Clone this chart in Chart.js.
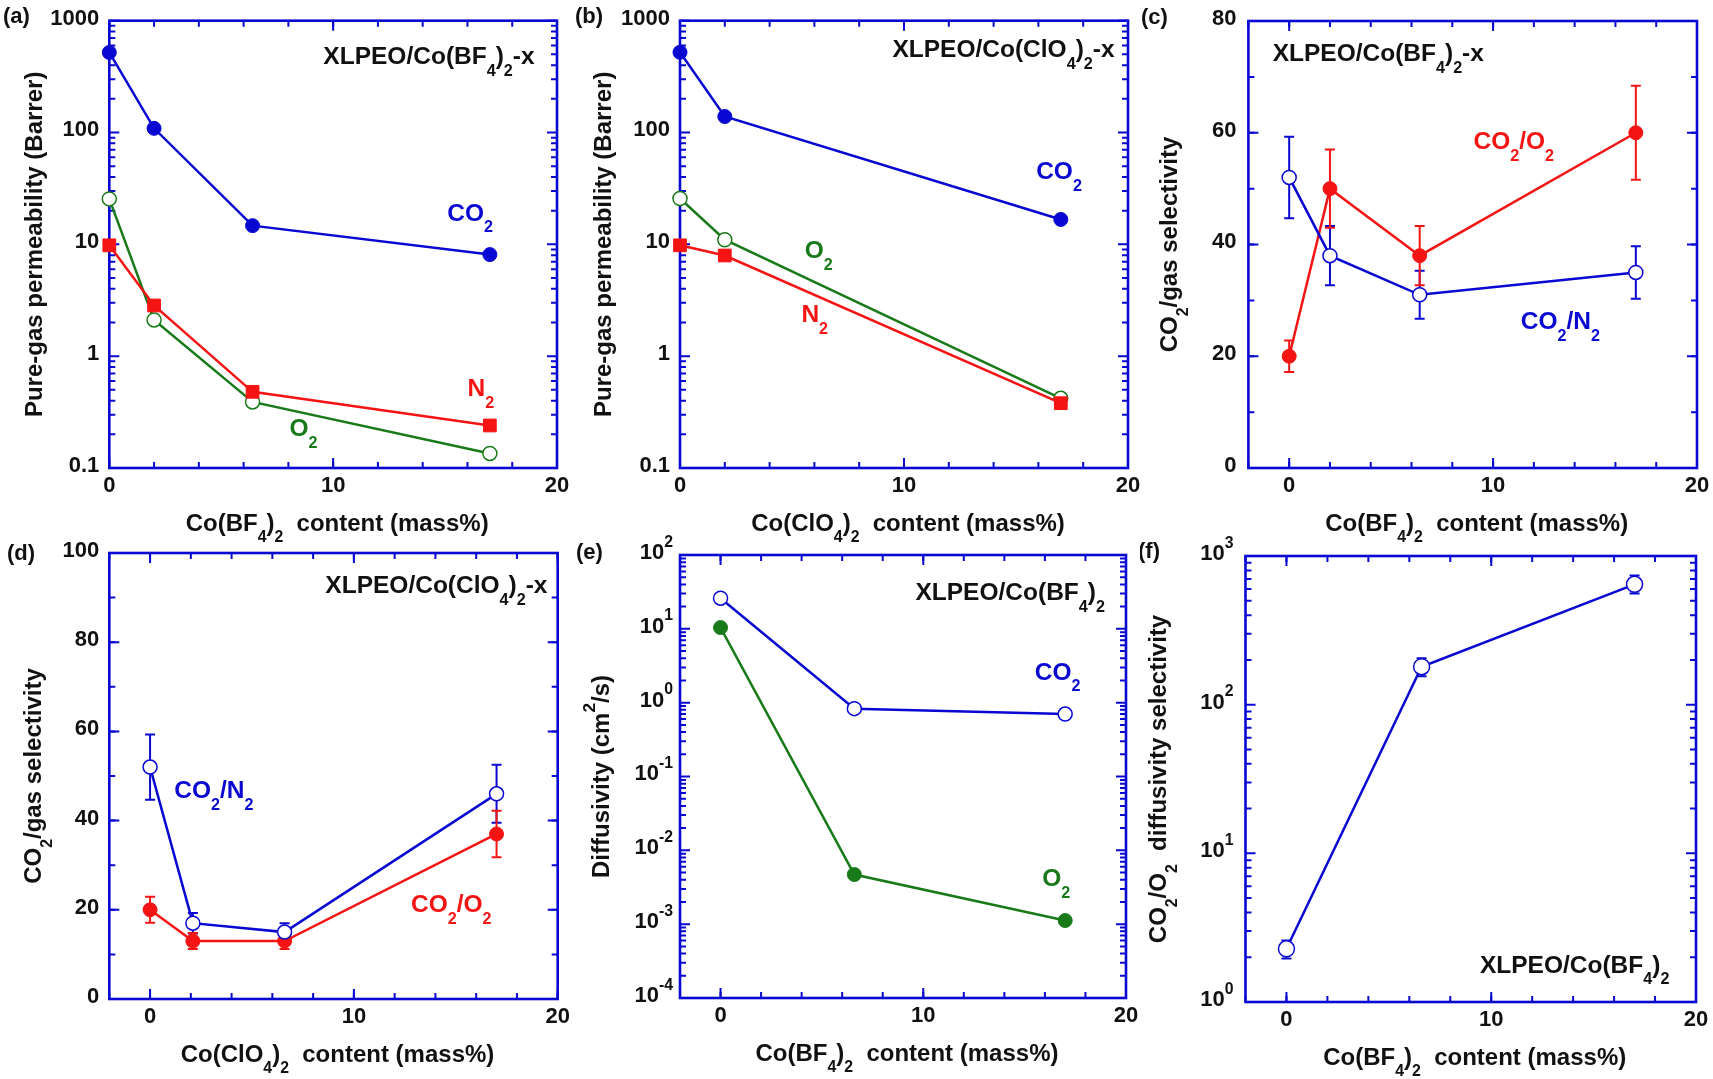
<!DOCTYPE html>
<html>
<head>
<meta charset="utf-8">
<script src="https://cdn.jsdelivr.net/npm/chart.js@4.4.0/dist/chart.umd.min.js"></script>
<style>
  body { margin: 0; background: #fff; width: 1713px; height: 1079px; position: relative; overflow: hidden; }
  canvas { position: absolute; }
</style>
</head>
<body>
<script>
// ---- data ----
// (a) XLPEO/Co(BF4)2-x pure-gas permeability (Barrer)
const bfContent = [0, 2, 6.4, 17];
const bfPermCO2 = [520, 109, 14.7, 8.1];
const bfPermN2 = [9.8, 2.84, 0.48, 0.24];
const bfPermO2 = [25.5, 2.11, 0.39, 0.135];

// (b) XLPEO/Co(ClO4)2-x pure-gas permeability
const clContent = [0, 2, 17];
const clPermCO2 = [522, 139, 16.7];
const clPermN2 = [9.8, 7.95, 0.38];
const clPermO2 = [25.7, 11, 0.42];

// (c) XLPEO/Co(BF4)2-x selectivity, with +/- error
const bfSelContent = [0, 2, 6.4, 17];
const bfSelCO2N2 = [52, 38, 31, 35];
const bfSelCO2N2Err = [7.3, 5.3, 4.3, 4.7];
const bfSelCO2O2 = [20, 50, 38, 60];
const bfSelCO2O2Err = [2.8, 7, 5.3, 8.4];

// (d) XLPEO/Co(ClO4)2-x selectivity
const clSelContent = [0, 2.1, 6.6, 17];
const clSelCO2N2 = [52, 17, 15, 46];
const clSelCO2N2Err = [7.3, 2.3, 2, 6.5];
const clSelCO2O2 = [20, 13, 13, 37];
const clSelCO2O2Err = [2.9, 1.8, 1.8, 5.2];

// (e) diffusivity
const diffContent = [0, 6.6, 17];
const diffCO2 = [26, 0.83, 0.70];
const diffO2 = [10.4, 0.0047, 0.00112];

// (f) CO2/O2 diffusivity selectivity (value, upper, lower)
const dselContent = [0, 6.6, 17];
const dsel = [2.28, 180, 645];
const dselHi = [2.59, 205, 740];
const dselLo = [1.96, 155, 559];

// tick labels
const contentTicks = [0, 10, 20];
const permTicks = [0.1, 1, 10, 100, 1000];
const selTicksC = [0, 20, 40, 60, 80];
const selTicksD = [0, 20, 40, 60, 80, 100];
const diffTicks = [1e-4, 1e-3, 1e-2, 1e-1, 1, 10, 100];
const dselTicks = [1, 10, 100, 1000];

const BLUE = '#0808d2', RED = '#f41414', GREEN = '#197a19', INK = '#111';
const FONT = '"Liberation Sans", Arial, sans-serif';
const TICK_PX = 22, TITLE_PX = 24, NOTE_PX = 24.5, TAG_PX = 22;

function partSize(p, size) {
  if (p[1] === 'sup') return size * 0.72;
  if (p[1] === 'sub') return size * 0.66;
  return size;
}
function richWidth(ctx, parts, size) {
  let w = 0;
  parts.forEach(p => {
    ctx.font = 'bold ' + partSize(p, size) + 'px ' + FONT;
    w += ctx.measureText(p[0]).width;
  });
  return w;
}

// y = vertical centre of the normal sized text
function drawRich(ctx, parts, x, y, size, color, align) {
  const w = richWidth(ctx, parts, size);
  let cx = align === 'right' ? x - w : (align === 'center' ? x - w / 2 : x);
  const base = y + size * 0.36;
  ctx.fillStyle = color;
  ctx.textAlign = 'left';
  ctx.textBaseline = 'alphabetic';
  parts.forEach(p => {
    ctx.font = 'bold ' + partSize(p, size) + 'px ' + FONT;
    let by = base;
    if (p[1] === 'sub') by = base + size * 0.48;
    if (p[1] === 'sup') by = base - size * 0.56;
    ctx.fillText(p[0], cx, by);
    cx += ctx.measureText(p[0]).width;
  });
}

function linMinor(min, max, step) {
  const out = [];
  for (let v = min; v <= max + 1e-9; v += step) out.push(Math.round(v * 1000) / 1000);
  return out;
}
function logMinor(min, max) {
  const out = [];
  for (let d = Math.round(Math.log10(min)); d < Math.round(Math.log10(max)); d++)
    for (let k = 2; k <= 9; k++) out.push(k * Math.pow(10, d));
  return out;
}
const plainLabel = v => [[String(v)]];
const powLabel = v => [['10'], [String(Math.round(Math.log10(v))), 'sup']];

// frame, inward ticks, labels, titles and error bars for one panel
function makeDecor(c, ox, oy) {
  return {
    id: 'decor',
    beforeDatasetsDraw(chart) {
      const ctx = chart.ctx, a = chart.chartArea;
      const xs = chart.scales.x, ys = chart.scales.y;
      ctx.save();
      ctx.strokeStyle = BLUE;
      ctx.lineWidth = 2;
      const xt = (v, len) => {
        const px = xs.getPixelForValue(v);
        ctx.beginPath();
        ctx.moveTo(px, a.bottom); ctx.lineTo(px, a.bottom - len);
        ctx.moveTo(px, a.top); ctx.lineTo(px, a.top + len);
        ctx.stroke();
      };
      const yt = (v, len) => {
        const py = ys.getPixelForValue(v);
        ctx.beginPath();
        ctx.moveTo(a.left, py); ctx.lineTo(a.left + len, py);
        ctx.moveTo(a.right, py); ctx.lineTo(a.right - len, py);
        ctx.stroke();
      };
      c.xMinor.forEach(v => xt(v, 6));
      c.xTicks.forEach(v => xt(v, 10));
      c.yMinor.forEach(v => yt(v, 6));
      c.yTicks.forEach(v => yt(v, 10));
      ctx.lineWidth = 2.6;
      ctx.strokeRect(a.left, a.top, a.right - a.left, a.bottom - a.top);

      chart.data.datasets.forEach(ds => {
        if (!ds.errHi) return;
        ctx.strokeStyle = ds.borderColor;
        ctx.lineWidth = 2;
        ds.data.forEach((p, i) => {
          const px = xs.getPixelForValue(p.x);
          const y1 = ys.getPixelForValue(ds.errLo[i]), y2 = ys.getPixelForValue(ds.errHi[i]);
          ctx.beginPath();
          ctx.moveTo(px, y1); ctx.lineTo(px, y2);
          ctx.moveTo(px - 5, y1); ctx.lineTo(px + 5, y1);
          ctx.moveTo(px - 5, y2); ctx.lineTo(px + 5, y2);
          ctx.stroke();
        });
      });
      ctx.restore();
    },
    afterDraw(chart) {
      const ctx = chart.ctx, a = chart.chartArea;
      const xs = chart.scales.x, ys = chart.scales.y;
      ctx.save();
      c.xTicks.forEach(v => drawRich(ctx, [[String(v)]], xs.getPixelForValue(v), a.bottom + 16, TICK_PX, INK, 'center'));
      c.yTicks.forEach(v => drawRich(ctx, c.yFmt(v), a.left - c.yGap, ys.getPixelForValue(v) - 4, TICK_PX, INK, 'right'));
      drawRich(ctx, c.xTitle, (a.left + a.right) / 2 + 4, a.bottom + 54, TITLE_PX, INK, 'center');
      ctx.save();
      ctx.translate(c.yTitleX - ox, (a.top + a.bottom) / 2);
      ctx.rotate(-Math.PI / 2);
      drawRich(ctx, c.yTitle, 0, 0, TITLE_PX, INK, 'center');
      ctx.restore();
      drawRich(ctx, [[c.tag]], c.tagPos[0] - ox, c.tagPos[1] - oy, TAG_PX, INK, 'left');
      c.notes.forEach(n => drawRich(ctx, n.parts, xs.getPixelForValue(n.x), ys.getPixelForValue(n.y), NOTE_PX, n.color, n.align || 'left'));
      ctx.restore();
    }
  };
}

const pts = (xs, ys) => xs.map((x, i) => ({ x: x, y: ys[i] }));
function series(xs, ys, color, style, open, radius) {
  return {
    data: pts(xs, ys), showLine: true, clip: false,
    borderColor: color, borderWidth: 2.5,
    pointStyle: style, pointRadius: radius || 7,
    pointBackgroundColor: open ? '#fff' : color,
    pointBorderColor: color, pointBorderWidth: open ? 1.5 : 1
  };
}
function withErr(ds, lo, hi) { ds.errLo = lo; ds.errHi = hi; return ds; }

// canvas = [left, top, width, height], box = plot frame [l, t, r, b] in page pixels
function panel(canvas, box, xr, yAxis, datasets, cfg) {
  const [cl, ct, cw, chh] = canvas;
  const cv = document.createElement('canvas');
  cv.width = cw; cv.height = chh;
  cv.style.left = cl + 'px'; cv.style.top = ct + 'px';
  document.body.appendChild(cv);
  return new Chart(cv.getContext('2d'), {
    type: 'scatter',
    data: { datasets: datasets },
    options: {
      responsive: false, animation: false, events: [],
      layout: { padding: { left: box[0] - cl, top: box[1] - ct, right: cl + cw - box[2], bottom: ct + chh - box[3] } },
      scales: {
        x: { type: 'linear', min: xr[0], max: xr[1], display: false },
        y: Object.assign({ display: false }, yAxis)
      },
      plugins: { legend: { display: false }, tooltip: { enabled: false } }
    },
    plugins: [makeDecor(cfg, cl, ct)]
  });
}

const bfX = [['Co(BF'], ['4', 'sub'], [')'], ['2', 'sub'], ['  content (mass%)']];
const clX = [['Co(ClO'], ['4', 'sub'], [')'], ['2', 'sub'], ['  content (mass%)']];
const bfTitle = [['XLPEO/Co(BF'], ['4', 'sub'], [')'], ['2', 'sub'], ['-x']];
const clTitle = [['XLPEO/Co(ClO'], ['4', 'sub'], [')'], ['2', 'sub'], ['-x']];
const bfTitle2 = [['XLPEO/Co(BF'], ['4', 'sub'], [')'], ['2', 'sub']];
const gas = g => [[g.slice(0, -1)], ['2', 'sub']];
const ratio = g => [['CO'], ['2', 'sub'], ['/' + g], ['2', 'sub']];
const selY = [['CO'], ['2', 'sub'], ['/gas selectivity']];
const permY = [['Pure-gas permeability (Barrer)']];

// (a)
panel([0, 0, 570, 565], [109.3, 20.7, 557, 468], [0, 20],
  { type: 'logarithmic', min: 0.1, max: 1000 },
  [series(bfContent, bfPermCO2, BLUE, 'circle', false),
   series(bfContent, bfPermN2, RED, 'rect', false, 9),
   series(bfContent, bfPermO2, GREEN, 'circle', true)],
  { tag: '(a)', tagPos: [3, 15], xTicks: contentTicks, xMinor: linMinor(0, 20, 2),
    yTicks: permTicks, yMinor: logMinor(0.1, 1000), yFmt: plainLabel, yGap: 10,
    xTitle: bfX, yTitle: permY, yTitleX: 33,
    notes: [{ x: 19, y: 493, parts: bfTitle, color: INK, align: 'right' },
            { x: 15.1, y: 19.5, parts: gas('CO2'), color: BLUE },
            { x: 16.0, y: 0.53, parts: gas('N2'), color: RED },
            { x: 8.05, y: 0.232, parts: gas('O2'), color: GREEN }] });

// (b)
panel([570, 0, 570, 565], [680, 20.7, 1128, 468], [0, 20],
  { type: 'logarithmic', min: 0.1, max: 1000 },
  [series(clContent, clPermCO2, BLUE, 'circle', false),
   series(clContent, clPermN2, RED, 'rect', false, 9),
   series(clContent, clPermO2, GREEN, 'circle', true)],
  { tag: '(b)', tagPos: [575, 15], xTicks: contentTicks, xMinor: linMinor(0, 20, 2),
    yTicks: permTicks, yMinor: logMinor(0.1, 1000), yFmt: plainLabel, yGap: 10,
    xTitle: clX, yTitle: permY, yTitleX: 602,
    notes: [{ x: 19.4, y: 565, parts: clTitle, color: INK, align: 'right' },
            { x: 15.9, y: 46, parts: gas('CO2'), color: BLUE },
            { x: 5.57, y: 9.1, parts: gas('O2'), color: GREEN },
            { x: 5.42, y: 2.4, parts: gas('N2'), color: RED }] });

// (c)
panel([1140, 0, 573, 565], [1248.4, 21, 1697, 468], [-2, 20],
  { type: 'linear', min: 0, max: 80 },
  [withErr(series(bfSelContent, bfSelCO2N2, BLUE, 'circle', true),
     bfSelCO2N2.map((v, i) => v - bfSelCO2N2Err[i]), bfSelCO2N2.map((v, i) => v + bfSelCO2N2Err[i])),
   withErr(series(bfSelContent, bfSelCO2O2, RED, 'circle', false),
     bfSelCO2O2.map((v, i) => v - bfSelCO2O2Err[i]), bfSelCO2O2.map((v, i) => v + bfSelCO2O2Err[i]))],
  { tag: '(c)', tagPos: [1141, 16], xTicks: contentTicks, xMinor: linMinor(-2, 20, 2),
    yTicks: selTicksC, yMinor: linMinor(0, 80, 10), yFmt: plainLabel, yGap: 12,
    xTitle: bfX, yTitle: selY, yTitleX: 1168,
    notes: [{ x: -0.81, y: 74.4, parts: bfTitle, color: INK },
            { x: 9.04, y: 58.6, parts: ratio('O'), color: RED },
            { x: 11.36, y: 26.5, parts: ratio('N'), color: BLUE }] });

// (d)
panel([0, 535, 570, 544], [109.3, 553, 557.7, 999], [-2, 20],
  { type: 'linear', min: 0, max: 100 },
  [withErr(series(clSelContent, clSelCO2N2, BLUE, 'circle', true),
     clSelCO2N2.map((v, i) => v - clSelCO2N2Err[i]), clSelCO2N2.map((v, i) => v + clSelCO2N2Err[i])),
   withErr(series(clSelContent, clSelCO2O2, RED, 'circle', false),
     clSelCO2O2.map((v, i) => v - clSelCO2O2Err[i]), clSelCO2O2.map((v, i) => v + clSelCO2O2Err[i]))],
  { tag: '(d)', tagPos: [7, 552], xTicks: contentTicks, xMinor: linMinor(-2, 20, 2),
    yTicks: selTicksD, yMinor: linMinor(0, 100, 10), yFmt: plainLabel, yGap: 10,
    xTitle: clX, yTitle: selY, yTitleX: 32,
    notes: [{ x: 8.6, y: 93, parts: clTitle, color: INK },
            { x: 1.19, y: 47, parts: ratio('N'), color: BLUE },
            { x: 12.8, y: 21.5, parts: ratio('O'), color: RED }] });

// (e)
panel([570, 535, 570, 544], [680, 555, 1126, 998], [-2, 20],
  { type: 'logarithmic', min: 1e-4, max: 100 },
  [series(diffContent, diffCO2, BLUE, 'circle', true),
   series(diffContent, diffO2, GREEN, 'circle', false)],
  { tag: '(e)', tagPos: [576, 551], xTicks: contentTicks, xMinor: linMinor(-2, 20, 2),
    yTicks: diffTicks, yMinor: logMinor(1e-4, 100), yFmt: powLabel, yGap: 7,
    xTitle: bfX, yTitle: [['Diffusivity (cm'], ['2', 'sup'], ['/s)']], yTitleX: 600,
    notes: [{ x: 18.96, y: 32, parts: bfTitle2, color: INK, align: 'right' },
            { x: 15.5, y: 2.7, parts: gas('CO2'), color: BLUE },
            { x: 15.87, y: 0.0043, parts: gas('O2'), color: GREEN }] });

// (f)
panel([1140, 535, 573, 544], [1245.5, 556, 1696, 1002], [-2, 20],
  { type: 'logarithmic', min: 1, max: 1000 },
  [withErr(series(dselContent, dsel, BLUE, 'circle', true, 8), dselLo, dselHi)],
  { tag: '(f)', tagPos: [1138, 550], xTicks: contentTicks, xMinor: linMinor(-2, 20, 2),
    yTicks: dselTicks, yMinor: logMinor(1, 1000), yFmt: powLabel, yGap: 12,
    xTitle: bfX, yTitle: [['CO'], ['2', 'sub'], ['/O'], ['2', 'sub'], ['  diffusivity selectivity']], yTitleX: 1157,
    notes: [{ x: 18.7, y: 1.81, parts: bfTitle2, color: INK, align: 'right' }] });
</script>
</body>
</html>
